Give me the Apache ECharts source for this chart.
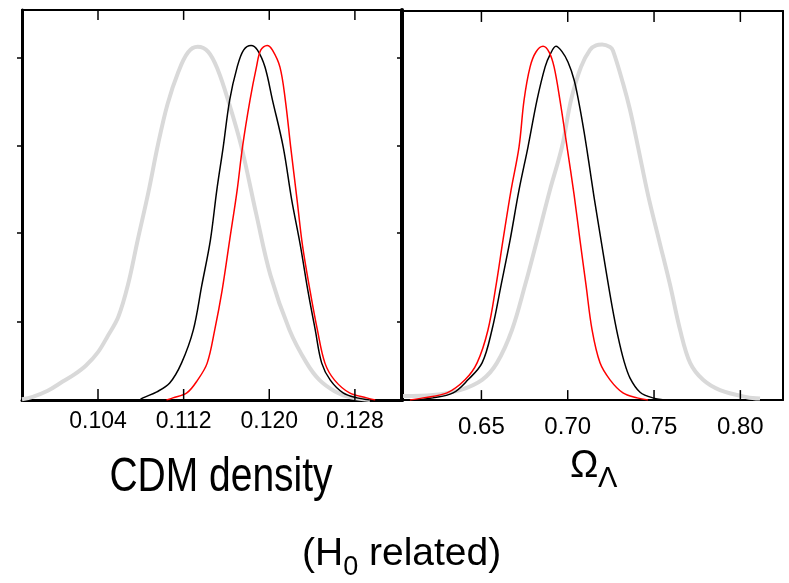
<!DOCTYPE html>
<html>
<head>
<meta charset="utf-8">
<script src="https://cdn.jsdelivr.net/npm/echarts@6/dist/echarts.min.js"></script>
<style>
  html, body { margin: 0; padding: 0; background: #fff; }
  #main { width: 789px; height: 583px; }
</style>
</head>
<body>
<div id="main"></div>
<script>
// tick labels
var cdmTicks = [0.104, 0.112, 0.120, 0.128];
var omTicks = [0.65, 0.70, 0.75, 0.80];
var yTicks = [0.22, 0.471, 0.716, 0.965];

// CDM density, normalised posteriors [x, p]
var cdmGray = [[0.0969,0.002],[0.0979,0.009],[0.0993,0.026],[0.1007,0.052],[0.1018,0.072],[0.1029,0.098],
  [0.1040,0.135],[0.1049,0.180],[0.1059,0.235],[0.1068,0.325],[0.1077,0.450],[0.1087,0.585],[0.1096,0.720],
  [0.1105,0.835],[0.1115,0.925],[0.1124,0.980],[0.1133,0.996],[0.1143,0.982],[0.1152,0.931],[0.1162,0.841],
  [0.1174,0.714],[0.1188,0.522],[0.1201,0.353],[0.1219,0.197],[0.1235,0.104],[0.1247,0.056],[0.1261,0.025],
  [0.1275,0.008],[0.1294,0]];
var cdmBlack = [[0.1079,0],[0.1082,0.006],[0.1095,0.023],[0.1107,0.048],[0.1118,0.104],[0.1129,0.197],
  [0.1137,0.324],[0.1145,0.451],[0.1151,0.592],[0.1157,0.714],[0.1163,0.846],[0.1170,0.939],[0.1176,0.987],
  [0.1183,1.0],[0.1189,0.987],[0.1196,0.939],[0.1203,0.846],[0.1213,0.714],[0.1221,0.564],[0.1229,0.437],
  [0.1236,0.310],[0.1243,0.197],[0.1249,0.104],[0.1257,0.056],[0.1269,0.020],[0.1282,0.006],[0.1294,0]];
var cdmRed = [[0.1104,0],[0.1110,0.006],[0.1123,0.020],[0.1133,0.056],[0.1142,0.104],[0.1149,0.197],
  [0.1156,0.310],[0.1163,0.451],[0.1170,0.592],[0.1175,0.714],[0.1182,0.846],[0.1188,0.939],[0.1192,0.987],
  [0.1198,1.0],[0.1203,0.987],[0.1210,0.939],[0.1215,0.846],[0.1220,0.714],[0.1226,0.564],[0.1231,0.437],
  [0.1238,0.310],[0.1245,0.197],[0.1252,0.104],[0.1261,0.056],[0.1275,0.020],[0.1291,0.006],[0.1299,0]];

// Omega_Lambda
var omGray = [[0.6046,0.011],[0.6220,0.014],[0.6376,0.028],[0.6504,0.057],[0.6590,0.105],[0.6677,0.198],
  [0.6753,0.325],[0.6822,0.452],[0.6897,0.594],[0.6967,0.716],[0.7019,0.848],[0.7077,0.942],[0.7129,0.99],
  [0.7164,1.003],[0.7199,1.005],[0.7245,0.998],[0.7262,0.988],[0.7320,0.896],[0.7361,0.820],[0.7407,0.716],
  [0.7465,0.580],[0.7529,0.452],[0.7593,0.325],[0.7651,0.198],[0.7709,0.105],[0.7784,0.057],[0.7882,0.028],
  [0.8039,0.008],[0.8114,0.004]];
var omBlack = [[0.6086,0],[0.6220,0.006],[0.6336,0.020],[0.6422,0.057],[0.6504,0.105],[0.6561,0.198],
  [0.6614,0.325],[0.6666,0.452],[0.6718,0.594],[0.6770,0.716],[0.6822,0.848],[0.6869,0.942],[0.6897,0.976],
  [0.6932,1.0],[0.6967,0.985],[0.7002,0.955],[0.7037,0.905],[0.7065,0.840],[0.7094,0.760],[0.7123,0.670],
  [0.7152,0.575],[0.7187,0.470],[0.7222,0.365],[0.7257,0.265],[0.7291,0.180],[0.7326,0.110],[0.7361,0.062],
  [0.7419,0.022],[0.7494,0.006],[0.7575,0]];
var omRed = [[0.6086,0],[0.6162,0.006],[0.6301,0.020],[0.6405,0.057],[0.6475,0.105],[0.6538,0.198],
  [0.6585,0.325],[0.6625,0.452],[0.6672,0.594],[0.6718,0.716],[0.6747,0.848],[0.6782,0.942],[0.6816,0.984],
  [0.6857,1.0],[0.6892,0.984],[0.6921,0.942],[0.6955,0.848],[0.6996,0.716],[0.7037,0.580],[0.7071,0.452],
  [0.7106,0.325],[0.7141,0.198],[0.7187,0.105],[0.7245,0.057],[0.7320,0.020],[0.7402,0.006],[0.7465,0]];

var FONT = "'Liberation Sans', Arial, sans-serif";
var YMAX = 1.1;

function curve(data, xi, color, width) {
  return {
    type: "line",
    xAxisIndex: xi,
    yAxisIndex: xi,
    data: data,
    symbol: "none",
    smooth: 0.35,
    silent: true,
    lineStyle: { color: color, width: width }
  };
}

// inward ticks on the bottom and top frame lines, each a tiny two-point line series
function tickSeries(ticks, xi, lenB, lenT) {
  var out = [];
  ticks.forEach(function (v) {
    [[[v, 0], [v, lenB]], [[v, YMAX], [v, YMAX - lenT]]].forEach(function (seg) {
      out.push({
        type: "line",
        xAxisIndex: xi,
        yAxisIndex: xi,
        data: seg,
        symbol: "none",
        silent: true,
        clip: false,
        z: 5,
        lineStyle: { color: "#000", width: 1.5 }
      });
    });
  });
  return out;
}

function xAxisDef(grid, pos, min, max, ticks, lineW, showLabel, digits, fs, margin) {
  return {
    type: "value",
    gridIndex: grid,
    position: pos,
    min: min,
    max: max,
    axisLine: { show: true, onZero: false, lineStyle: { color: "#000", width: lineW } },
    axisTick: { show: false },
    axisLabel: {
      show: showLabel,
      customValues: ticks,
      margin: margin,
      color: "#000",
      fontFamily: FONT,
      fontSize: fs,
      formatter: function (v) { return v.toFixed(digits); }
    },
    splitLine: { show: false }
  };
}

function yAxisDef(grid, pos, lineW, ticks, inside) {
  return {
    type: "value",
    gridIndex: grid,
    position: pos,
    min: 0,
    max: YMAX,
    axisLine: { show: true, onZero: false, lineStyle: { color: "#000", width: lineW } },
    axisTick: { show: !!ticks, inside: inside, length: 5, customValues: ticks || [], lineStyle: { color: "#000", width: 1.5 } },
    axisLabel: { show: false },
    splitLine: { show: false }
  };
}

// measure widths for the (H0 related) label
var ctx = document.createElement("canvas").getContext("2d");
function textW(s, size) {
  ctx.font = size + "px " + FONT;
  return ctx.measureText(s).width;
}
var hx = 302;
var w1 = textW("(H", 39);
var w2 = textW("0", 27);

var chart = echarts.init(document.getElementById("main"));

var option = {
  backgroundColor: "#fff",
  animation: false,
  grid: [
    { left: 22, top: 10, width: 380, height: 390 },
    { left: 402, top: 11, width: 381, height: 389 }
  ],
  xAxis: [
    xAxisDef(0, "bottom", 0.0969, 0.1324, cdmTicks, 3, true, 3, 23, 10),
    xAxisDef(0, "top", 0.0969, 0.1324, cdmTicks, 2, false, 3, 23, 10),
    xAxisDef(1, "bottom", 0.604, 0.8247, omTicks, 2, true, 2, 24, 15),
    xAxisDef(1, "top", 0.604, 0.8247, omTicks, 2, false, 2, 24, 15)
  ],
  yAxis: [
    yAxisDef(0, "left", 3, yTicks, false),
    yAxisDef(0, "right", 4, yTicks, true),
    yAxisDef(1, "left", 4, null, false),
    yAxisDef(1, "right", 2, null, false)
  ],
  series: [
    curve(cdmGray, 0, "#d9d9d9", 4),
    curve(cdmBlack, 0, "#000000", 1.5),
    curve(cdmRed, 0, "#ff0000", 1.5),
    curve(omGray, 2, "#d9d9d9", 4),
    curve(omBlack, 2, "#000000", 1.5),
    curve(omRed, 2, "#ff0000", 1.5)
  ]
    .concat(tickSeries(cdmTicks, 0, 0.031, 0.028))
    .concat(tickSeries(omTicks, 2, 0.028, 0.031)),
  graphic: [
    {
      type: "text", x: 221, y: 478, scaleY: 1.22,
      style: { text: "CDM density", fontFamily: FONT, fontSize: 39, fill: "#000", align: "center", verticalAlign: "middle" }
    },
    {
      type: "text", x: 570, y: 467,
      style: { text: "\u03A9", fontFamily: FONT, fontSize: 38, fill: "#000", align: "left", verticalAlign: "middle" }
    },
    {
      type: "text", x: 598, y: 479,
      style: { text: "\u039B", fontFamily: FONT, fontSize: 29, fill: "#000", align: "left", verticalAlign: "middle" }
    },
    {
      type: "text", x: hx, y: 554,
      style: { text: "(H", fontFamily: FONT, fontSize: 39, fill: "#000", align: "left", verticalAlign: "middle" }
    },
    {
      type: "text", x: hx + w1, y: 568,
      style: { text: "0", fontFamily: FONT, fontSize: 27, fill: "#000", align: "left", verticalAlign: "middle" }
    },
    {
      type: "text", x: hx + w1 + w2, y: 554,
      style: { text: " related)", fontFamily: FONT, fontSize: 39, fill: "#000", align: "left", verticalAlign: "middle" }
    }
  ]
};

chart.setOption(option);
</script>
</body>
</html>
